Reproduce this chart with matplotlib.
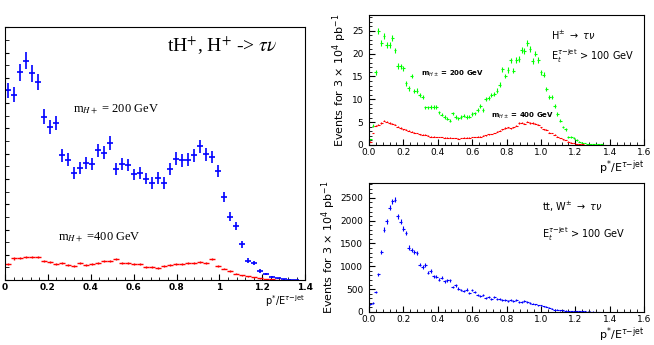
import numpy as np
import matplotlib
matplotlib.use('Agg')
import matplotlib.pyplot as plt
from matplotlib.ticker import MultipleLocator

# left panel: tH+, 50 bins over 0 - 1.4 (arbitrary units)
left_edges = (0.0, 1.4, 50)
blue_200 = [75.0, 73.4, 82.2, 86.8, 81.8, 78.3, 64.7, 60.5, 62.1, 49.3,
            47.6, 42.4, 44.5, 46.4, 45.8, 51.3, 50.3, 54.2, 44.1, 45.8,
            45.4, 41.8, 42.4, 40.1, 38.4, 40.4, 38.4, 44.1, 48.0, 47.4,
            47.6, 49.3, 52.9, 49.7, 48.7, 43.2, 32.9, 25.0, 21.3, 14.2,
            7.6, 6.8, 3.7, 2.4, 1.1, 0.7, 0.3, 0.2, 0.1, 0.0]
red_400 = [6.3, 8.6, 8.8, 9.2, 9.2, 9.2, 7.5, 7.2, 6.3, 6.6,
           5.9, 5.7, 6.8, 5.9, 6.3, 6.6, 7.5, 7.5, 8.3, 6.8,
           6.8, 6.3, 6.3, 5.3, 5.3, 4.9, 5.7, 5.9, 6.3, 6.3,
           6.6, 6.8, 7.2, 6.6, 8.2, 5.5, 4.6, 3.7, 2.6, 2.0,
           1.6, 1.1, 0.7, 0.3, 0.3, 0.1, 0.0, 0.0, 0.0, 0.0]

# right panels: 100 bins over 0 - 1.6
right_edges = (0.0, 1.6, 100)
green_200 = [1.2, 4.2, 15.9, 24.9, 22.3, 23.8, 21.9, 21.9, 23.5, 20.7,
             17.3, 17.2, 16.8, 13.5, 12.4, 15.1, 11.8, 11.9, 11.0, 10.5,
             8.2, 8.2, 8.3, 8.3, 8.3, 7.1, 6.6, 6.1, 5.7, 5.3,
             6.9, 6.1, 5.8, 6.1, 6.4, 6.1, 6.2, 6.8, 6.9, 7.7,
             8.6, 7.7, 10.0, 10.2, 11.0, 11.2, 11.9, 13.2, 16.6, 15.1,
             16.4, 18.5, 16.3, 18.6, 18.8, 20.8, 20.5, 22.3, 21.0, 18.4,
             20.0, 18.6, 15.9, 15.4, 12.2, 10.5, 10.5, 8.6, 6.8, 5.3,
             3.9, 3.4, 1.8, 1.7, 1.5, 1.1, 0.7, 0.5, 0.4, 0.2,
             0.2, 0.15, 0.1, 0.1, 0.1, 0.05, 0.0, 0.0, 0.0, 0.0,
             0.0, 0.0, 0.0, 0.0, 0.0, 0.0, 0.0, 0.0, 0.0, 0.0]
red_400_r = [0.7, 2.6, 4.2, 4.4, 4.8, 5.3, 5.1, 4.8, 4.6, 4.4,
             4.0, 3.7, 3.4, 3.3, 3.1, 2.9, 2.7, 2.6, 2.3, 2.2,
             2.2, 2.0, 1.8, 1.8, 1.75, 1.7, 1.7, 1.6, 1.6, 1.55,
             1.5, 1.5, 1.4, 1.5, 1.55, 1.6, 1.6, 1.7, 1.75, 1.8,
             1.8, 2.0, 2.1, 2.3, 2.4, 2.6, 2.85, 3.1, 3.4, 3.7,
             3.9, 3.6, 3.9, 4.2, 4.8, 4.9, 4.6, 5.1, 4.8, 4.8,
             4.6, 4.4, 3.9, 3.4, 3.3, 2.7, 2.6, 2.2, 1.8, 1.5,
             1.2, 1.1, 0.7, 0.5, 0.4, 0.2, 0.15, 0.1, 0.0, 0.0,
             0.0, 0.0, 0.0, 0.0, 0.0, 0.0, 0.0, 0.0, 0.0, 0.0,
             0.0, 0.0, 0.0, 0.0, 0.0, 0.0, 0.0, 0.0, 0.0, 0.0]
blue_bkg = [168, 197, 439, 826, 1316, 1806, 1988, 2288, 2427, 2463,
            2098, 1974, 1828, 1732, 1411, 1352, 1316, 1294, 1038, 987,
            1023, 855, 899, 782, 768, 709, 753, 673, 694, 694,
            548, 585, 512, 475, 461, 490, 417, 475, 439, 366,
            344, 366, 314, 329, 292, 329, 292, 292, 256, 256,
            241, 256, 241, 256, 219, 219, 234, 219, 197, 183,
            168, 146, 146, 124, 110, 95, 73, 51, 51, 37,
            37, 29, 22, 22, 15, 14, 12, 10, 9, 8,
            7, 6, 5, 5, 0, 0, 0, 0, 0, 0,
            0, 0, 0, 0, 0, 0, 0, 0, 0, 0]

xlabel = r'p$^{*}$/E$^{\tau\mathrm{-jet}}$'
ylabel = r'Events for 3 $\times$ 10$^{4}$ pb$^{-1}$'


def centers(edges):
    lo, hi, n = edges
    w = (hi - lo) / n
    return lo + w * (np.arange(n) + 0.5), w / 2


def draw(ax, edges, vals, k, color, lw):
    x, hw = centers(edges)
    v = np.array(vals, dtype=float)
    keep = v > 0
    ax.errorbar(x[keep], v[keep], xerr=hw, yerr=k * np.sqrt(v[keep]),
                fmt='none', ecolor=color, elinewidth=lw, capsize=0)


def style(ax):
    ax.tick_params(which='both', direction='in', top=False, right=False)
    ax.tick_params(which='major', length=4, labelsize=6.5, pad=2)
    ax.tick_params(axis='y', which='major', pad=4)
    ax.tick_params(which='minor', length=2)
    for s in ax.spines.values():
        s.set_linewidth(0.8)
    ax.xaxis.set_major_locator(MultipleLocator(0.2))
    ax.xaxis.set_minor_locator(MultipleLocator(0.04))


fig = plt.figure(figsize=(6.54, 3.45), dpi=100)

# ---- left panel
ax1 = fig.add_axes([0.0076, 0.188, 0.459, 0.733])
draw(ax1, left_edges, blue_200, 0.36, 'blue', 1.2)
draw(ax1, left_edges, red_400, 0.15, 'red', 1.0)
ax1.set_xlim(0, 1.4)
ax1.set_ylim(0, 100)
style(ax1)
ax1.yaxis.set_major_locator(MultipleLocator(10))
ax1.yaxis.set_minor_locator(MultipleLocator(5))
ax1.tick_params(axis='y', which='both', length=3, labelleft=False)
ax1.set_xticks(np.arange(0, 1.41, 0.2))
ax1.set_xticklabels(['0', '0.2', '0.4', '0.6', '0.8', '1', '1.2', '1.4'],
                    fontweight='bold')
ax1.text(1.0, -0.05, xlabel, transform=ax1.transAxes,
         ha='right', va='top', fontsize=7)
ax1.text(0.54, 0.9, r'tH$^{+}$, H$^{+}$ -> $\tau\nu$', transform=ax1.transAxes,
         fontsize=14, family='Liberation Serif', math_fontfamily='stix')
ax1.text(0.225, 0.665, r'm$_{H+}$ = 200 GeV', transform=ax1.transAxes,
         fontsize=9, family='Liberation Serif', math_fontfamily='stix')
ax1.text(0.175, 0.16, r'm$_{H+}$ =400 GeV', transform=ax1.transAxes,
         fontsize=9, family='Liberation Serif', math_fontfamily='stix')

# ---- top right
ax2 = fig.add_axes([0.564, 0.580, 0.421, 0.377])
draw(ax2, right_edges, green_200, 0.14, '#00ff00', 0.8)
draw(ax2, right_edges, red_400_r, 0.06, 'red', 0.8)
ax2.set_xlim(0, 1.6)
ax2.set_ylim(0, 28.5)
style(ax2)
ax2.yaxis.set_major_locator(MultipleLocator(5))
ax2.yaxis.set_minor_locator(MultipleLocator(1))
ax2.set_ylabel(ylabel, fontsize=8, labelpad=2)
ax2.text(1.0, -0.105, xlabel, transform=ax2.transAxes,
         ha='right', va='top', fontsize=8)
ax2.text(0.66, 0.84, r'H$^{\pm}$ $\rightarrow$ $\tau\nu$', transform=ax2.transAxes,
         fontsize=7, va='center')
ax2.text(0.66, 0.68, r'E$_{t}^{\tau\mathrm{-jet}}$ > 100 GeV', transform=ax2.transAxes,
         fontsize=7, va='center')
ax2.text(0.19, 0.545, r'm$_{H\pm}$ = 200 GeV', transform=ax2.transAxes,
         fontsize=5, fontweight='bold', va='center')
ax2.text(0.445, 0.225, r'm$_{H\pm}$ = 400 GeV', transform=ax2.transAxes,
         fontsize=5, fontweight='bold', va='center')

# ---- bottom right
ax3 = fig.add_axes([0.564, 0.096, 0.421, 0.374])
draw(ax3, right_edges, blue_bkg, 1.2, 'blue', 0.8)
ax3.set_xlim(0, 1.6)
ax3.set_ylim(0, 2830)
style(ax3)
ax3.yaxis.set_major_locator(MultipleLocator(500))
ax3.yaxis.set_minor_locator(MultipleLocator(100))
ax3.set_ylabel(ylabel, fontsize=8, labelpad=2)
ax3.text(1.0, -0.105, xlabel, transform=ax3.transAxes,
         ha='right', va='top', fontsize=8)
ax3.text(0.63, 0.81, r'tt, W$^{\pm}$ $\rightarrow$ $\tau\nu$', transform=ax3.transAxes,
         fontsize=7, va='center')
ax3.text(0.63, 0.60, r'E$_{t}^{\tau\mathrm{-jet}}$ > 100 GeV', transform=ax3.transAxes,
         fontsize=7, va='center')

fig.savefig('out.png', dpi=100)
